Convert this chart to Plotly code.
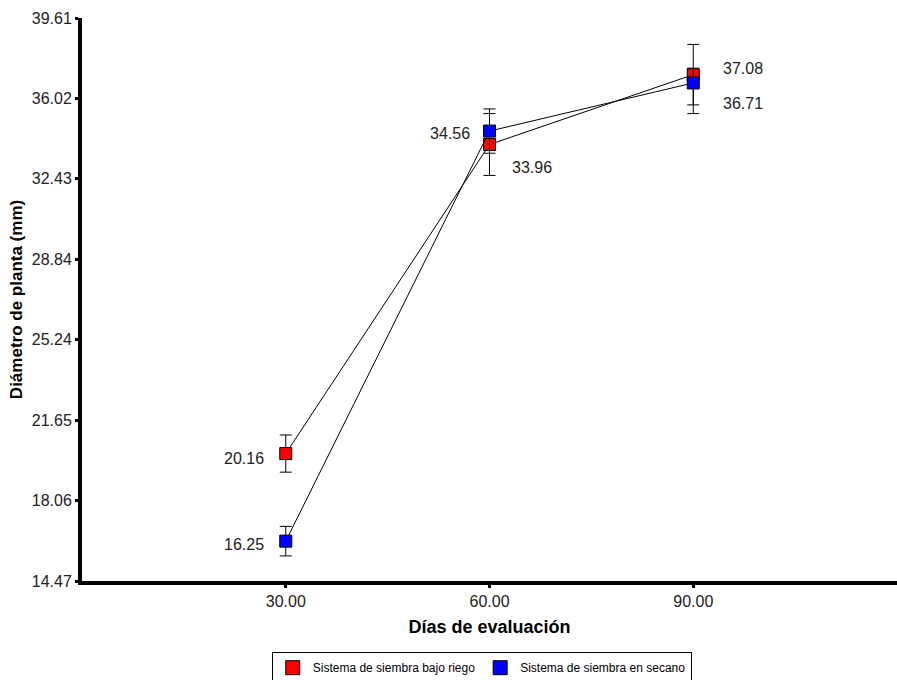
import plotly.graph_objects as go

# ---- data ----
days = [30, 60, 90]
riego = [20.16, 33.96, 37.08]
riego_err = [0.83, 1.38, 1.35]
secano = [16.25, 34.56, 36.71]
secano_err_plus = [0.66, 0.99, 0.66]
secano_err_minus = [0.66, 0.99, 1.37]
y_ticks = [14.47, 18.06, 21.65, 25.24, 28.84, 32.43, 36.02, 39.61]
y_labels = ["14.47", "18.06", "21.65", "25.24", "28.84", "32.43", "36.02", "39.61"]
x_ticks = [30, 60, 90]
x_labels = ["30.00", "60.00", "90.00"]
names = ["Sistema de siembra bajo riego", "Sistema de siembra en secano"]
colors = ["#ff0000", "#0000ff"]

FONT = "Liberation Sans, Arial, sans-serif"

fig = go.Figure()

fig.add_trace(go.Scatter(
    x=days, y=riego, mode="lines+markers", showlegend=False,
    line=dict(color="black", width=1),
    marker=dict(symbol="square", size=12, color=colors[0], line=dict(color="black", width=1)),
    error_y=dict(type="data", array=riego_err, color="black", thickness=1, width=6),
    cliponaxis=False,
))
fig.add_trace(go.Scatter(
    x=days, y=secano, mode="lines+markers", showlegend=False,
    line=dict(color="black", width=1),
    marker=dict(symbol="square", size=12, color=colors[1], line=dict(color="black", width=1)),
    error_y=dict(type="data", symmetric=False, array=secano_err_plus,
                 arrayminus=secano_err_minus, color="black", thickness=1, width=6),
    cliponaxis=False,
))
# legend entries
for nm, c in zip(names, colors):
    fig.add_trace(go.Scatter(
        x=[None], y=[None], mode="markers", name=nm,
        marker=dict(symbol="square", size=14, color=c, line=dict(color="black", width=1)),
    ))

# value labels
label_specs = [
    (days[0], riego[0], "right", -20, -5),
    (days[1], riego[1], "left", 20, -23),
    (days[2], riego[2], "left", 28, 6),
    (days[0], secano[0], "right", -20, -3),
    (days[1], secano[1], "right", -18, -2),
    (days[2], secano[2], "left", 28, -21),
]
for x, y, anc, xs, ys in label_specs:
    fig.add_annotation(
        x=x, y=y, text=f"{y:.2f}", showarrow=False, xanchor=anc, yanchor="middle",
        xshift=xs, yshift=ys, font=dict(family=FONT, size=16, color="#222222"),
    )

fig.update_layout(
    width=897, height=680,
    margin=dict(l=82, r=0, t=18, b=99, autoexpand=False),
    paper_bgcolor="white", plot_bgcolor="white",
    font=dict(family=FONT, color="#222222"),
    legend=dict(
        orientation="h", x=0.4905, xanchor="center", y=-0.154, yanchor="middle",
        bordercolor="black", borderwidth=1, font=dict(family=FONT, size=12, color="black"),
        itemsizing="trace",
    ),
    xaxis=dict(
        range=[0, 120], tickvals=x_ticks, ticktext=x_labels, automargin=False,
        showgrid=False, zeroline=False, showline=True, linecolor="black", linewidth=4,
        ticks="outside", ticklen=3, tickwidth=3, tickcolor="black",
        tickfont=dict(family=FONT, size=16, color="#222222"),
        title=dict(text="<b>Días de evaluación</b>", font=dict(family=FONT, size=18, color="black"), standoff=12),
    ),
    yaxis=dict(
        range=[14.47, 39.61], tickvals=y_ticks, ticktext=y_labels, automargin=False,
        showgrid=False, zeroline=False, showline=True, linecolor="black", linewidth=4,
        ticks="outside", ticklen=3, tickwidth=3, tickcolor="black",
        tickfont=dict(family=FONT, size=16, color="#222222"),
        title=dict(text="<b>Diámetro de planta (mm)</b>", font=dict(family=FONT, size=17, color="black"), standoff=6),
    ),
)

fig.write_html(
    "out.html",
    config={"displayModeBar": False},
    post_script="document.body.style.margin='0';document.body.style.overflow='hidden';",
)
